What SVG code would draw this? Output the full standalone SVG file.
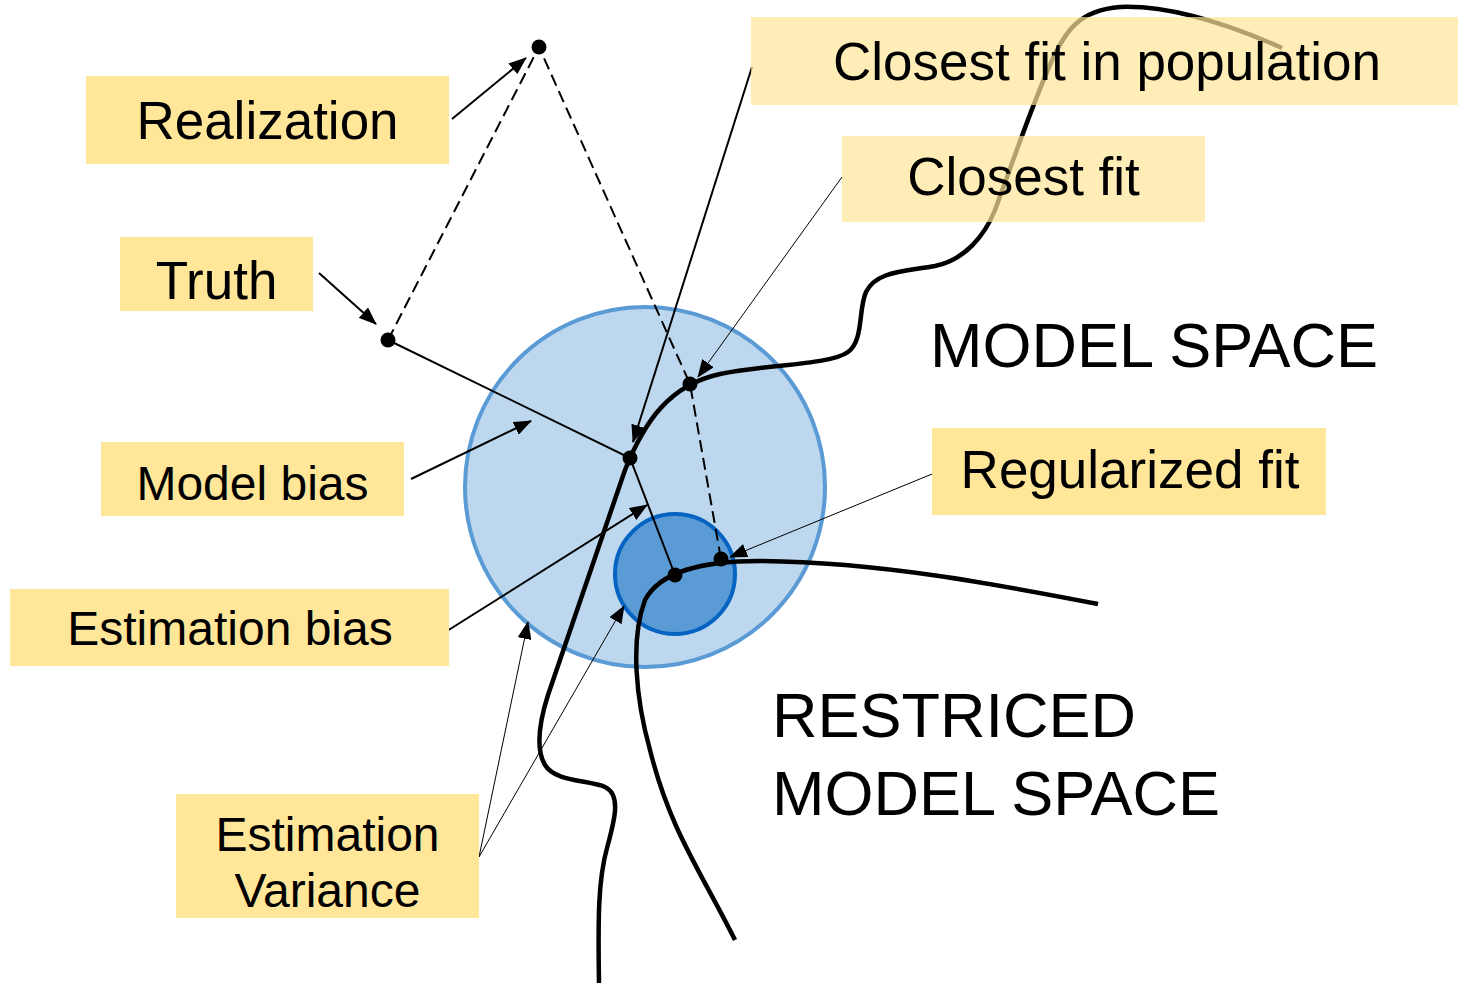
<svg xmlns="http://www.w3.org/2000/svg" width="1458" height="983" viewBox="0 0 1458 983">
  <style>
    .lbl { fill: #FFE699; }
    .lblt { fill: #FFE699; fill-opacity: 0.7; }
    .t { font-family: "Liberation Sans", Arial, sans-serif; fill: #000; }
    .curve { fill: none; stroke: #000; stroke-width: 4.5; stroke-linecap: butt; }
    .ln { fill: none; stroke: #000; stroke-width: 2; }
    .thin { fill: none; stroke: #000; stroke-width: 1; }
    .dash { fill: none; stroke: #000; stroke-width: 2; stroke-dasharray: 12 6; }
    .dot { fill: #000; }
  </style>
  <defs>
    <marker id="ah" markerUnits="userSpaceOnUse" markerWidth="18" markerHeight="14" refX="17" refY="7" orient="auto">
      <path d="M0,0 L18,7 L0,14 z" fill="#000"/>
    </marker>
  </defs>
  <rect width="1458" height="983" fill="#fff"/>

  <g id="regions">
    <circle cx="645" cy="487" r="180" fill="#BDD7EE" stroke="#5B9BD5" stroke-width="4"/>
    <circle cx="675" cy="574" r="60" fill="#5B9BD5" stroke="#0563C1" stroke-width="4"/>
  </g>

  <g id="spaces">
    <path class="curve" d="M599,983 C598,920 598,880 607,848 C614,822 622,795 605,787 C590,780 555,782 545,765 C535,748 540,720 548,695 L625,470 C645,420 670,385 720,374 C770,364 830,365 848,352 C864,340 858,310 866,292 C876,272 900,272 935,266 C965,260 985,235 995,210 C1010,170 1030,110 1050,65 C1065,30 1080,10 1120,7 C1170,5 1230,25 1282,48"/>
    <path class="curve" d="M1098,604 C1000,585 880,562 760,561 C700,561 660,572 645,600 C630,640 636,700 650,750 C670,830 700,870 735,940"/>
  </g>

  <g id="connectors">
    <path class="dash" d="M388,340 L539,47 L690,384 L721,559"/>
    <path class="ln" d="M388,340 L630,458 L675,575"/>
    <line class="ln" x1="452" y1="119" x2="526" y2="58" marker-end="url(#ah)"/>
    <line class="ln" x1="319" y1="273" x2="376" y2="324" marker-end="url(#ah)"/>
    <line class="ln" x1="411" y1="479" x2="531" y2="421" marker-end="url(#ah)"/>
    <line class="ln" x1="447" y1="631" x2="647" y2="505" marker-end="url(#ah)"/>
    <line class="thin" x1="479" y1="857" x2="528" y2="622" marker-end="url(#ah)"/>
    <line class="thin" x1="479" y1="857" x2="624" y2="606" marker-end="url(#ah)"/>
    <line class="ln" x1="752" y1="67" x2="633" y2="442" marker-end="url(#ah)"/>
    <line class="thin" x1="842" y1="177" x2="698" y2="377" marker-end="url(#ah)"/>
    <line class="thin" x1="932" y1="474" x2="730" y2="557" marker-end="url(#ah)"/>
  </g>

  <g id="points">
    <circle class="dot" cx="539" cy="47" r="7.5"/>
    <circle class="dot" cx="388" cy="340" r="7.5"/>
    <circle class="dot" cx="630" cy="458" r="7.5"/>
    <circle class="dot" cx="690" cy="384" r="7.5"/>
    <circle class="dot" cx="721" cy="559" r="7.5"/>
    <circle class="dot" cx="675" cy="575" r="7.5"/>
  </g>

  <g id="realization">
    <rect class="lbl" x="86" y="76" width="363" height="88"/>
    <text class="t" x="267.5" y="139" font-size="53" text-anchor="middle">Realization</text>
  </g>
  <g id="truth">
    <rect class="lbl" x="120" y="237" width="193" height="74"/>
    <text class="t" x="216.5" y="299" font-size="53" text-anchor="middle">Truth</text>
  </g>
  <g id="model-bias">
    <rect class="lbl" x="101" y="442" width="303" height="74"/>
    <text class="t" x="252.5" y="500" font-size="48" text-anchor="middle">Model bias</text>
  </g>
  <g id="estimation-bias">
    <rect class="lbl" x="10" y="589" width="439" height="77"/>
    <text class="t" x="230" y="645" font-size="48" text-anchor="middle">Estimation bias</text>
  </g>
  <g id="estimation-variance">
    <rect class="lbl" x="176" y="794" width="303" height="124"/>
    <text class="t" x="327.5" y="851" font-size="48" text-anchor="middle">Estimation</text>
    <text class="t" x="327.5" y="907" font-size="48" text-anchor="middle">Variance</text>
  </g>
  <g id="closest-fit-population">
    <rect class="lblt" x="751" y="17" width="707" height="88"/>
    <text class="t" x="1107" y="80" font-size="53" text-anchor="middle">Closest fit in population</text>
  </g>
  <g id="closest-fit">
    <rect class="lblt" x="842" y="136" width="363" height="86"/>
    <text class="t" x="1023.5" y="195" font-size="53" text-anchor="middle">Closest fit</text>
  </g>
  <g id="regularized-fit">
    <rect class="lbl" x="932" y="428" width="394" height="87"/>
    <text class="t" x="1130" y="488" font-size="53" text-anchor="middle">Regularized fit</text>
  </g>
  <g id="model-space">
    <text class="t" x="930" y="367" font-size="63">MODEL SPACE</text>
  </g>
  <g id="restricted-model-space">
    <text class="t" x="772" y="737" font-size="63">RESTRICED</text>
    <text class="t" x="772" y="815" font-size="63">MODEL SPACE</text>
  </g>
</svg>
